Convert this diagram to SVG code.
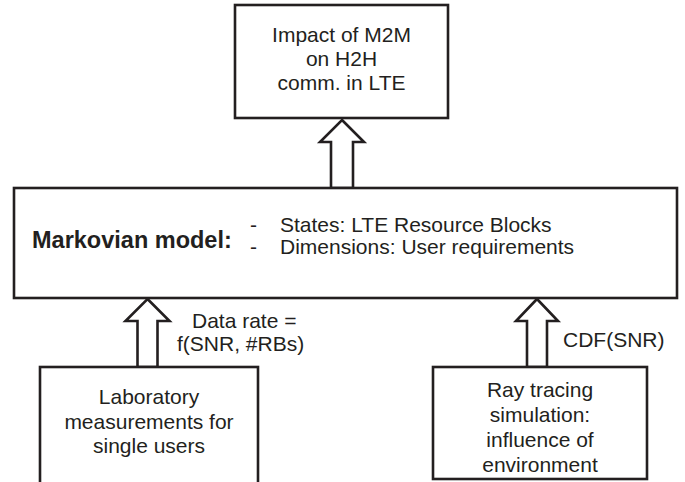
<svg xmlns="http://www.w3.org/2000/svg" width="685" height="482" viewBox="0 0 685 482">
<style>
.box{fill:#fff;stroke:#231f20;stroke-width:2.6}
.arr{fill:#fff;stroke:#231f20;stroke-width:2.6;stroke-linejoin:miter}
text{font-family:"Liberation Sans",Arial,sans-serif;fill:#231f20;font-size:21px}
.c{text-anchor:middle}
.b{font-weight:bold;font-size:23.5px}
</style>
<rect width="685" height="482" fill="#fff"/>
<g id="connectors">
<polygon class="arr" points="342,120 364,142 353,142 353,188 331,188 331,142 320,142"/>
<polygon class="arr" points="147.5,299 169.5,321 157.5,321 157.5,367 137.5,367 137.5,321 125.5,321"/>
<polygon class="arr" points="537,299 558,321 547,321 547,367 527,367 527,321 516,321"/>
<text x="192" y="328" font-size="20">Data rate =</text>
<text x="177" y="351" font-size="20">f(SNR, #RBs)</text>
<text x="563" y="347">CDF(SNR)</text>
</g>
<g id="impact">
<rect class="box" x="235" y="5" width="213" height="113"/>
<text class="c" x="341.5" y="42" font-size="20">Impact of M2M</text>
<text class="c" x="341.5" y="66" font-size="20">on H2H</text>
<text class="c" x="341.5" y="90" font-size="20">comm. in LTE</text>
</g>
<g id="markov">
<rect class="box" x="14" y="188" width="663" height="110"/>
<text class="b" x="32" y="248">Markovian model:</text>
<text x="250" y="232">-</text>
<text x="280" y="232">States: LTE Resource Blocks</text>
<text x="250" y="254">-</text>
<text x="280" y="254">Dimensions: User requirements</text>
</g>
<g id="lab">
<rect class="box" x="40" y="367" width="218" height="130"/>
<text class="c" x="149" y="404">Laboratory</text>
<text class="c" x="149" y="429">measurements for</text>
<text class="c" x="149" y="453">single users</text>
</g>
<g id="ray">
<rect class="box" x="433" y="367" width="214" height="112"/>
<text class="c" x="540" y="397">Ray tracing</text>
<text class="c" x="540" y="422">simulation:</text>
<text class="c" x="540" y="447">influence of</text>
<text class="c" x="540" y="472">environment</text>
</g>
</svg>
